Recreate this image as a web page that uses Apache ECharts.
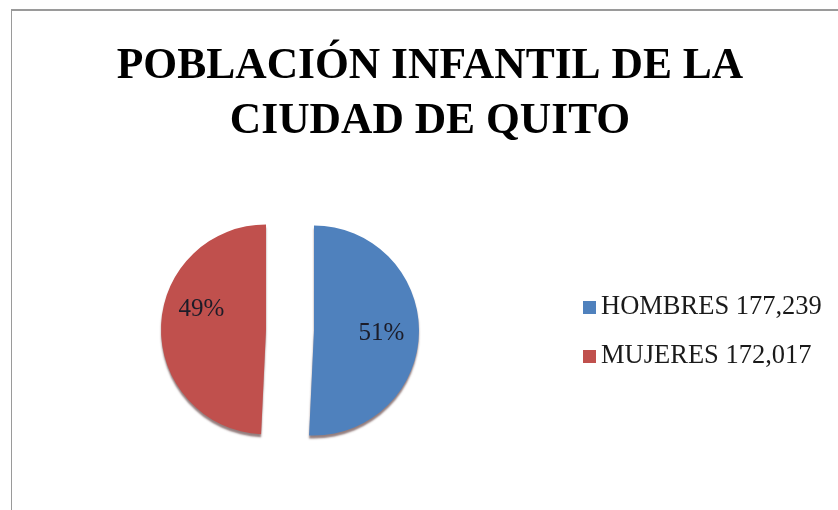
<!DOCTYPE html>
<html>
<head>
<meta charset="utf-8">
<script src="https://cdn.jsdelivr.net/npm/echarts@6/dist/echarts.min.js"></script>
<style>
html,body{margin:0;padding:0;background:#fff;}
#chart{width:838px;height:510px;position:absolute;left:0;top:0;}
#frame{position:absolute;left:11px;top:9px;width:840px;height:510px;border-top:2px solid #9a9a9a;border-left:1px solid #9a9a9a;pointer-events:none;}
</style>
</head>
<body>
<div id="chart"></div>
<div id="frame"></div>
<script>
const titleText = 'POBLACIÓN INFANTIL DE LA\nCIUDAD DE QUITO';
const categories = ['HOMBRES', 'MUJERES'];
const values = [177239, 172017];
const colors = ['#4F81BD', '#C0504D'];

const chart = echarts.init(document.getElementById('chart'), null, {renderer: 'canvas'});
const data = categories.map((c, i) => ({
  name: c,
  value: values[i],
  selected: true,
  itemStyle: {color: colors[i]}
}));
const valueOf = name => values[categories.indexOf(name)];

chart.setOption({
  backgroundColor: '#ffffff',
  animation: false,
  title: {
    text: titleText,
    left: 425,
    top: 34,
    padding: 5,
    textAlign: 'center',
    textStyle: {
      fontFamily: 'Liberation Serif',
      fontWeight: 'bold',
      fontSize: 43.5,
      lineHeight: 55,
      color: '#000'
    }
  },
  legend: {
    orient: 'vertical',
    left: 578,
    top: 289,
    padding: 5,
    icon: 'rect',
    itemWidth: 13,
    itemHeight: 13,
    itemGap: 22,
    selectedMode: false,
    formatter: name => name + ' ' + valueOf(name).toLocaleString('en-US'),
    textStyle: {
      fontFamily: 'Liberation Serif',
      fontSize: 26.5,
      lineHeight: 26,
      color: '#1a1a1a'
    }
  },
  series: [{
    type: 'pie',
    center: [290, 330],
    radius: 105,
    startAngle: 90,
    clockwise: true,
    selectedMode: 'multiple',
    selectedOffset: 24,
    emphasis: {disabled: true},
    itemStyle: {
      borderWidth: 0,
      shadowColor: 'rgba(60,20,20,0.55)',
      shadowBlur: 2,
      shadowOffsetY: 3
    },
    label: {
      position: 'inner',
      formatter: p => Math.round(p.percent) + '%',
      fontFamily: 'Liberation Serif',
      fontSize: 25,
      color: '#1c1c28'
    },
    labelLayout: function (p) {
      if (p.dataIndex === 1) return {dx: -9, dy: -19};
      return {dx: 12, dy: 2};
    },
    labelLine: {show: false},
    data: data
  }]
});
</script>
</body>
</html>
